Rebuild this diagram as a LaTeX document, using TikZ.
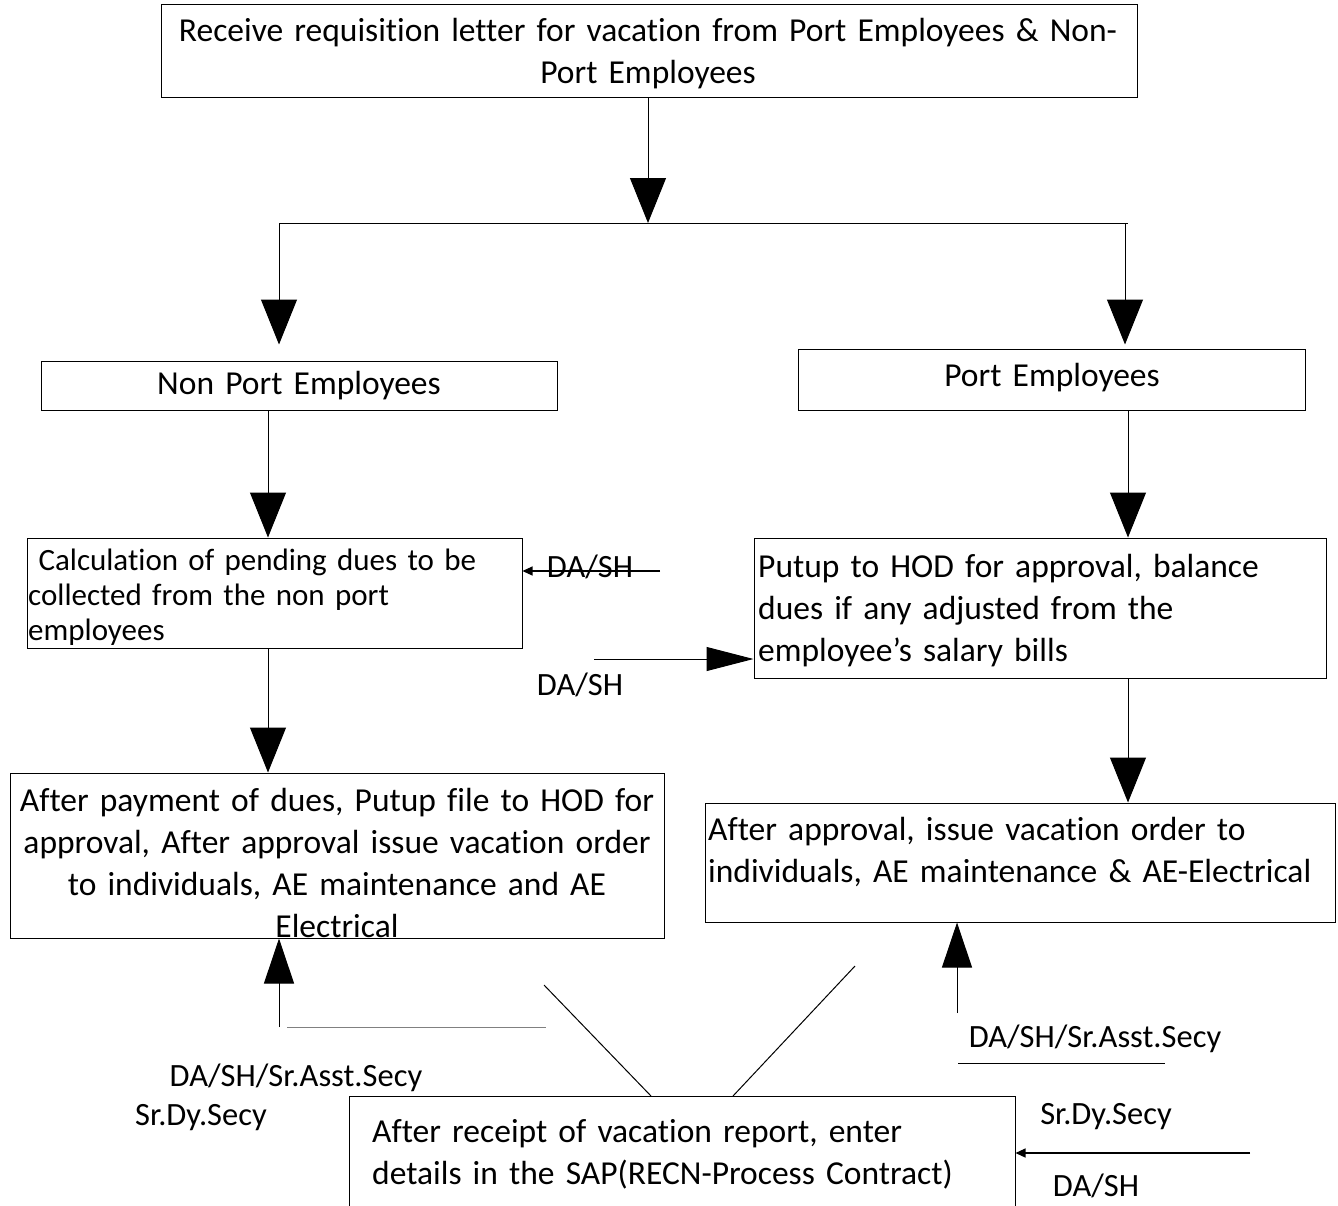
\documentclass[tikz,border=0pt]{standalone}
\usepackage{fontspec}
\setmainfont{Carlito}[Ligatures=NoCommon]
\usetikzlibrary{arrows.meta}

\begin{document}
\begin{tikzpicture}[x=1pt,y=-1pt,
  box/.style={draw,line width=1pt,inner sep=0pt,fill=none},
  body/.style={inner sep=0pt,font=\fontsize{33.5}{42}\selectfont,text width=#1},
  body/.default=700pt,
  small/.style={inner sep=0pt,font=\fontsize{31}{35}\selectfont,text width=600pt},
  tag/.style={inner sep=0pt,font=\fontsize{32.5}{36}\selectfont},
  flow/.style={line width=1pt,-{Triangle[length=45pt,width=36pt]}},
  feed/.style={line width=1.2pt,-{Triangle[length=10pt,width=9pt]}},
  push/.style={line width=1pt,-{Triangle[length=47pt,width=24pt]}},
  rise/.style={line width=1pt,-{Triangle[length=45pt,width=30pt]}},
  plain/.style={line width=1pt}]

\useasboundingbox (0,0) rectangle (1338,1205);
\clip (0,0) rectangle (1338,1205);

% process boxes
\node[box,minimum width=976pt,minimum height=93pt]  (recv)    at (649,50.5)   {};
\node[box,minimum width=516pt,minimum height=49pt]  (nonport) at (299,385.5)  {};
\node[box,minimum width=507pt,minimum height=61pt]  (port)    at (1051.5,379.5) {};
\node[box,minimum width=495pt,minimum height=110pt] (calc)    at (274.5,593)  {};
\node[box,minimum width=572pt,minimum height=140pt] (putup)   at (1040,608)   {};
\node[box,minimum width=654pt,minimum height=165pt] (afterpay) at (337,855.5) {};
\node[box,minimum width=630pt,minimum height=119pt] (approve) at (1020,862.5) {};
\node[box,minimum width=666pt,minimum height=160pt] (sap)     at (682,1176)   {};

% box texts
\node[body=1100pt,align=center,anchor=base] (recvT) at (648,41)
  {Receive requisition letter for vacation from Port Employees \& Non-\\Port Employees};
\node[body=560pt,align=center,anchor=base] (nonportT) at (299,394) {Non Port Employees};
\node[body=560pt,align=center,anchor=base] (portT) at (1052,386) {Port Employees};
\node[small,align=left,anchor=base west] (calcT) at (28,570.5)
  {\ Calculation of pending dues to be\\collected from the non port\\employees};
\node[body,align=left,anchor=base west] (putupT) at (758,577)
  {Putup to HOD for approval, balance\\dues if any adjusted from the\\employee’s salary bills};
\node[body=760pt,align=center,anchor=base] (afterpayT) at (337,811)
  {After payment of dues, Putup file to HOD for\\approval, After approval issue vacation order\\to individuals, AE maintenance and AE\\Electrical};
\node[body,align=left,anchor=base west] (approveT) at (708,840)
  {After approval, issue vacation order to\\individuals, AE maintenance \& AE-Electrical};
\node[body,align=left,anchor=base west] (sapT) at (372,1142)
  {After receipt of vacation report, enter\\details in the SAP(RECN-Process Contract)};

% role labels
\node[tag,anchor=base] (daA) at (590,577) {DA/SH};
\node[tag,anchor=base] (daB) at (580,695) {DA/SH};
\node[tag,anchor=base] (roleR) at (1095,1047) {DA/SH/Sr.Asst.Secy};
\node[tag,anchor=base] (roleL) at (296,1086) {DA/SH/Sr.Asst.Secy};
\node[tag,anchor=base] (secyL) at (201,1125) {Sr.Dy.Secy};
\node[tag,anchor=base] (secyR) at (1106,1124) {Sr.Dy.Secy};
\node[tag,anchor=base] (daC) at (1096,1196) {DA/SH};

% junction and free line ends
\coordinate (split) at (648,223);
\coordinate (splitL) at (279,223);
\coordinate (splitR) at (1125,223);
\coordinate (splitEnd) at (1128,223);
\coordinate (daAend) at (660,571);
\coordinate (daBend) at (594,659);
\coordinate (upL) at (279,1027);
\coordinate (greyL) at (287,1027);
\coordinate (greyR) at (546,1027);
\coordinate (diagA) at (544,985);
\coordinate (diagAend) at (651,1096);
\coordinate (diagB) at (855,966);
\coordinate (diagBend) at (733,1096);
\coordinate (upR) at (957,1013);
\coordinate (ruleL) at (958,1063);
\coordinate (ruleR) at (1165,1063);
\coordinate (daCend) at (1250,1153);
\coordinate (colL) at (268,0);
\coordinate (colR) at (1128,0);

% main flow
\draw[flow] (recv.south -| split) -- (split);
\draw[plain] (splitL) -- (splitEnd);
\draw[flow,shorten >=16pt] (splitL) -- (nonport.north -| splitL);
\draw[flow,shorten >=4pt] (splitR) -- (port.north -| splitR);
\draw[flow] (nonport.south -| colL) -- (calc.north -| colL);
\draw[flow] (port.south -| colR) -- (putup.north -| colR);
\draw[flow] (calc.south -| colL) -- (afterpay.north -| colL);
\draw[flow] (putup.south -| colR) -- (approve.north -| colR);

% side inputs
\draw[feed] (daAend) -- (calc.east |- daAend);
\draw[push] (daBend) -- (putup.west |- daBend);
\draw[rise] (upL) -- (afterpay.south -| upL);
\draw[plain,draw=gray] (greyL) -- (greyR);
\draw[plain] (diagA) -- (diagAend);
\draw[plain] (diagB) -- (diagBend);
\draw[rise] (upR) -- (approve.south -| upR);
\draw[plain] (ruleL) -- (ruleR);
\draw[feed] (daCend) -- (sap.east |- daCend);
\end{tikzpicture}
\end{document}
